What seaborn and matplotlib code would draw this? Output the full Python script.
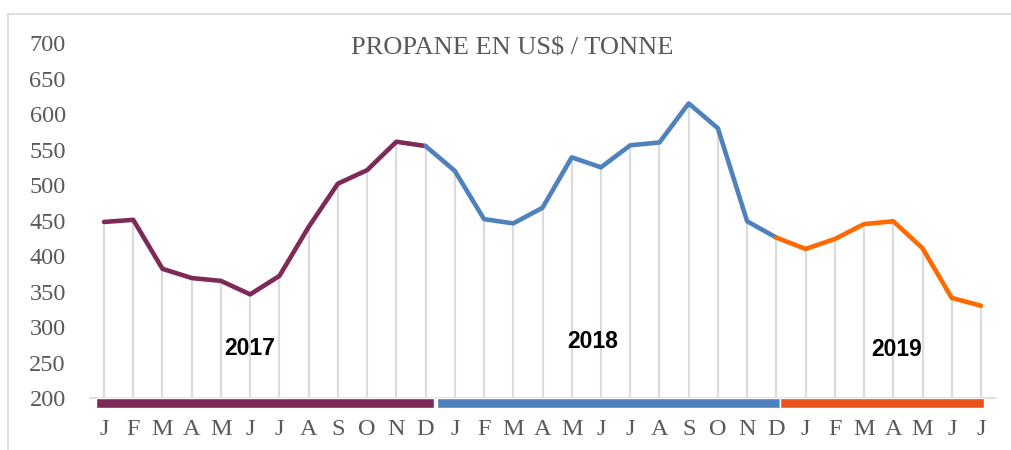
import numpy as np
import pandas as pd
import seaborn as sns
import matplotlib.pyplot as plt
from matplotlib.patches import Rectangle

# monthly propane price, Jan 2017 -> Jul 2019
months = ['J', 'F', 'M', 'A', 'M', 'J', 'J', 'A', 'S', 'O', 'N', 'D',
          'J', 'F', 'M', 'A', 'M', 'J', 'J', 'A', 'S', 'O', 'N', 'D',
          'J', 'F', 'M', 'A', 'M', 'J', 'J']
price_2017 = [448, 451, 382, 369, 365, 346, 372, 441, 502, 521, 561, 555]
price_2018 = [520, 452, 446, 468, 539, 525, 556, 560, 615, 580, 449, 426]
price_2019 = [410, 424, 445, 449, 411, 341, 330]
years = ['2017', '2018', '2019']
line_colors = ['#7E2A58', '#4F81BD', '#FF6A00']
bar_colors = ['#7E2A58', '#4F81BD', '#E8541C']

prices = price_2017 + price_2018 + price_2019
idx = np.arange(len(prices))

sns.set_style('white')
plt.rcParams['font.family'] = ['Liberation Serif', 'DejaVu Serif']

fig = plt.figure(figsize=(10.11, 4.5), dpi=100)
ax = fig.add_axes([89.4 / 1011, 0.084, (995.6 - 89.4) / 1011, 0.836])

# chart border (left/top visible)
fig.patches.append(Rectangle((8 / 1011, -0.1), 1.2, (450 - 14) / 450 + 0.1,
                             transform=fig.transFigure, fill=False,
                             edgecolor='#D9D9D9', linewidth=1.2))

# drop lines
ax.vlines(idx, 200, prices, color='#DCDCDC', linewidth=1.6, zorder=1)
ax.axhline(200, color='#D9D9D9', linewidth=1.2, zorder=1)

# one line per year, each joined to the last point of the previous year
series = [price_2017, price_2018, price_2019]
start = 0
for i, vals in enumerate(series):
    s = max(start - 1, 0)
    e = start + len(vals)
    seg = pd.DataFrame({'month': idx[s:e], 'price': prices[s:e]})
    sns.lineplot(data=seg, x='month', y='price', ax=ax, color=line_colors[i],
                 linewidth=3.3, zorder=3)
    start = e

# year bars under the axis
bar_edges = [(-0.28, 11.3), (11.38, 23.14), (23.14, 30.12)]
for (x0, x1), c in zip(bar_edges, bar_colors):
    ax.broken_barh([(x0, x1 - x0)], (186, 14), facecolors=c, zorder=2)

year_pos = [(5.0, 270), (16.7, 279), (27.1, 268)]
for (xp, yp), yr in zip(year_pos, years):
    ax.text(xp, yp, yr, ha='center', va='center', fontsize=16.5,
            fontweight='bold', family=['Liberation Sans', 'DejaVu Sans'],
            color='black')

ax.set_xlim(-0.5, 30.5)
ax.set_ylim(180, 710)
ax.set_yticks(range(200, 701, 50))
ax.set_xticks(idx)
ax.set_xticklabels(months)
ax.tick_params(axis='y', length=0, pad=17, labelsize=17.5, labelcolor='#595959')
ax.tick_params(axis='x', length=0, pad=5, labelsize=17.5, labelcolor='#595959')
ax.set_xlabel('')
ax.set_ylabel('')
for sp in ax.spines.values():
    sp.set_visible(False)

fig.text(512 / 1011, 1 - 48 / 450, 'PROPANE EN US$ / TONNE', ha='center',
         va='center', fontsize=19, color='#595959')

fig.savefig('out.png', dpi=100)
